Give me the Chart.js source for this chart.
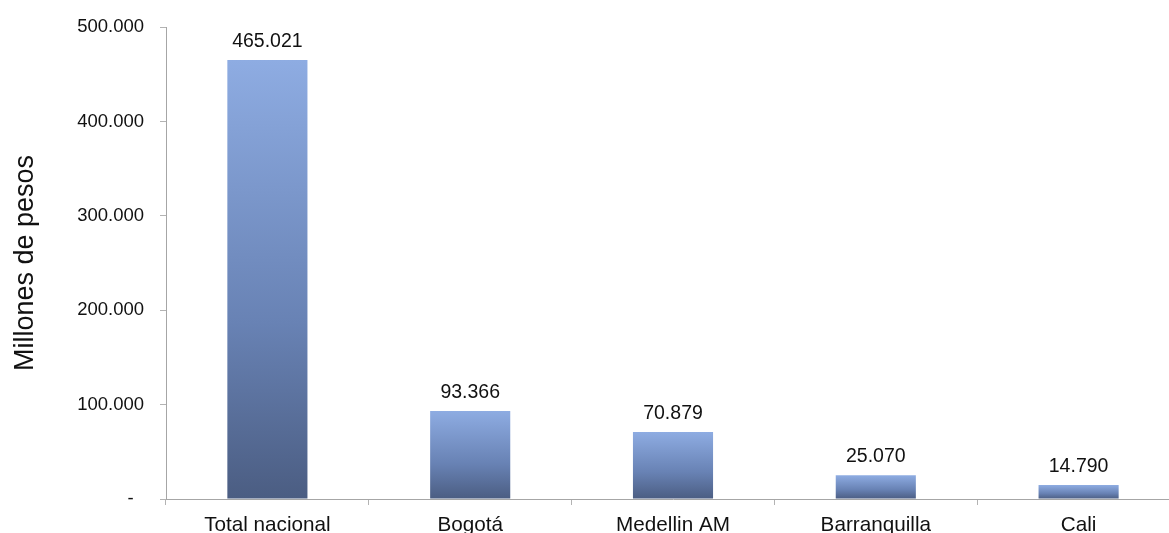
<!DOCTYPE html>
<html lang="es">
<head>
<meta charset="utf-8">
<title>Millones de pesos</title>
<script src="https://cdn.jsdelivr.net/npm/chart.js@4.4.1/dist/chart.umd.min.js"></script>
<style>
  html, body { margin: 0; padding: 0; background: #ffffff; overflow: hidden; }
  #wrap { width: 1181px; height: 533px; }
  canvas { display: block; }
</style>
</head>
<body>
<div id="wrap"><canvas id="chart" width="1181" height="533"></canvas></div>
<script>
// Datos del gráfico
const categories = ['Total nacional', 'Bogotá', 'Medellin AM', 'Barranquilla', 'Cali'];
const values = [465021, 93366, 70879, 25070, 14790];
const yMax = 500000;
const yStep = 100000;
const axisTitle = 'Millones de pesos';

const FONT = '"Liberation Sans", Arial, sans-serif';

// Formato con punto como separador de miles; el cero se muestra como guion
function fmt(v) {
  if (v === 0) return '-  ';
  return String(Math.round(v)).replace(/\B(?=(\d{3})+(?!\d))/g, '.');
}

// Degradado vertical propio de cada barra (claro arriba, oscuro abajo)
function barGradient(ctx) {
  const chart = ctx.chart;
  const y = chart.scales && chart.scales.y;
  if (!y || ctx.dataIndex === undefined) return '#7290c8';
  const top = y.getPixelForValue(ctx.raw);
  const base = y.getPixelForValue(0);
  if (!isFinite(top) || !isFinite(base) || top === base) return '#7290c8';
  const g = chart.ctx.createLinearGradient(0, top, 0, base);
  g.addColorStop(0, '#8eace2');
  g.addColorStop(0.6, '#6882b4');
  g.addColorStop(1, '#4b5d82');
  return g;
}

// Etiquetas de valor sobre cada barra
const valueLabels = {
  id: 'valueLabels',
  afterDatasetsDraw(chart) {
    const c = chart.ctx;
    const meta = chart.getDatasetMeta(0);
    c.save();
    c.font = '19.5px ' + FONT;
    c.fillStyle = '#111111';
    c.textAlign = 'center';
    c.textBaseline = 'alphabetic';
    meta.data.forEach((bar, i) => {
      c.fillText(fmt(values[i]), bar.x, bar.y - 13);
    });
    c.restore();
  }
};

new Chart(document.getElementById('chart'), {
  type: 'bar',
  data: {
    labels: categories,
    datasets: [{
      data: values,
      backgroundColor: barGradient,
      borderWidth: 0,
      barPercentage: 0.395,
      categoryPercentage: 1.0
    }]
  },
  options: {
    responsive: false,
    animation: false,
    devicePixelRatio: 1,
    layout: { padding: { top: 25, right: 1, bottom: 0, left: 0 } },
    plugins: {
      legend: { display: false },
      tooltip: { enabled: false }
    },
    scales: {
      x: {
        grid: {
          display: true,
          drawOnChartArea: false,
          drawTicks: true,
          tickLength: 6,
          color: '#b3b3b3',
          offset: true
        },
        border: { display: true, color: '#a6a6a6', width: 1 },
        ticks: {
          color: '#111111',
          font: { family: FONT, size: 20.7 },
          padding: 8,
          maxRotation: 0,
          autoSkip: false
        },
        afterFit(scale) { scale.height = 34; }
      },
      y: {
        min: 0,
        max: yMax,
        grid: {
          display: true,
          drawOnChartArea: false,
          drawTicks: true,
          tickLength: 6,
          color: '#b3b3b3'
        },
        border: { display: true, color: '#a6a6a6', width: 1 },
        ticks: {
          stepSize: yStep,
          color: '#111111',
          font: { family: FONT, size: 18.5 },
          padding: 16,
          callback: (v) => fmt(v)
        },
        title: {
          display: true,
          text: axisTitle,
          color: '#111111',
          font: { family: FONT, size: 27 },
          padding: { top: 9, bottom: 0 }
        },
        afterFit(scale) { scale.width = 166; }
      }
    }
  },
  plugins: [valueLabels]
});
</script>
</body>
</html>
